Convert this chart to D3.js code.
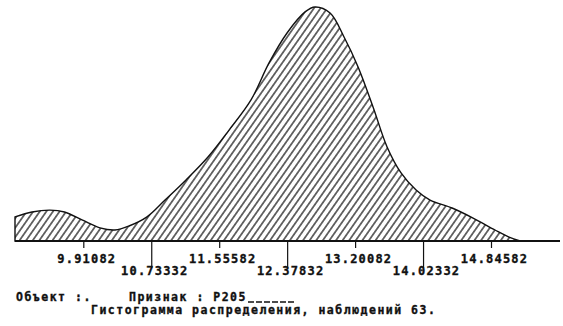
<!DOCTYPE html>
<html>
<head>
<meta charset="utf-8">
<script src="https://cdn.jsdelivr.net/npm/d3@7"></script>
<style>
  body { margin: 0; background: #fff; }
  text { font-family: "DejaVu Sans Mono", "Liberation Mono", monospace; font-weight: bold; fill: #111; stroke: #111; stroke-width: 0.35px; }
</style>
</head>
<body>
<div id="chart"></div>
<script>
const xValues = [9.084, 9.290, 9.507, 9.683, 9.895, 10.113, 10.295, 10.464, 10.682, 10.900,
  11.154, 11.420, 11.675, 11.941, 12.159, 12.377, 12.595, 12.716, 12.898, 13.067,
  13.237, 13.418, 13.588, 13.757, 13.939, 14.108, 14.375, 14.629, 14.895, 15.064, 15.198]
const yValues = [0.103, 0.124, 0.132, 0.124, 0.090, 0.056, 0.047, 0.064, 0.103, 0.175,
  0.261, 0.359, 0.474, 0.603, 0.761, 0.889, 0.979, 1.000, 0.974, 0.872,
  0.744, 0.573, 0.402, 0.291, 0.218, 0.175, 0.141, 0.098, 0.047, 0.017, 0.000]

const tickValues = [9.91082, 10.73332, 11.55582, 12.37832, 13.20082, 14.02332, 14.84582]
const tickLabels = ['9.91082', '10.73332', '11.55582', '12.37832', '13.20082', '14.02332', '14.84582']

const captionObject = 'Объект :.'
const captionSign = 'Признак : P205'
const captionTitle = 'Гистограмма распределения, наблюдений 63.'

const W = 563, H = 326
const base = 241

const svg = d3.select('#chart').append('svg')
    .attr('width', W)
    .attr('height', H)

//scales: ticks sit ~68px apart
const x = d3.scaleLinear()
    .domain([tickValues[0], tickValues[6]])
    .range([83.3, 491])
const y = d3.scaleLinear()
    .domain([0, 1])
    .range([base, 7])

//hatch pattern
svg.append('defs').append('pattern')
    .attr('id', 'hatch')
    .attr('patternUnits', 'userSpaceOnUse')
    .attr('width', 5.4)
    .attr('height', 10)
    .attr('patternTransform', 'rotate(35)')
  .append('line')
    .attr('x1', 2.7).attr('y1', 0)
    .attr('x2', 2.7).attr('y2', 10)
    .attr('stroke', '#222')
    .attr('stroke-width', 1.3)

const pts = xValues.map((d, i) => [d, yValues[i]])

const area = d3.area()
    .x(d => x(d[0]))
    .y0(y(0))
    .y1(d => y(d[1]))
    .curve(d3.curveCatmullRom.alpha(0.5))

svg.append('path')
    .datum(pts)
    .attr('d', area)
    .attr('fill', 'url(#hatch)')
    .attr('stroke', '#111')
    .attr('stroke-width', 1.4)

//baseline running past the curve
svg.append('line')
    .attr('x1', x(xValues[0]))
    .attr('x2', 560)
    .attr('y1', base)
    .attr('y2', base)
    .attr('stroke', '#111')
    .attr('stroke-width', 2.2)

//axis, every second tick is long with a lower label
const axis = d3.axisBottom(x)
    .tickValues(tickValues)
    .tickFormat((d, i) => tickLabels[i])
    .tickSize(7)

const gx = svg.append('g')
    .attr('transform', `translate(0,${base})`)
    .call(axis)

gx.select('.domain').remove()
gx.selectAll('.tick line')
    .attr('stroke', '#111')
    .attr('stroke-width', 1.2)
    .attr('y2', (d, i) => i % 2 ? 27 : 7)
gx.selectAll('.tick text')
    .attr('y', (d, i) => i % 2 ? 34 : 22)
    .attr('dy', 0)
    .attr('dx', 3)
    .style('font-size', '12px')
    .style('letter-spacing', '1.2px')
    .style('font-family', '"DejaVu Sans Mono", monospace')
    .style('font-weight', 'bold')
    .attr('fill', '#111')

//captions
const cap = svg.append('g')
    .style('font-size', '11.5px')
    .style('letter-spacing', '1.5px')

cap.append('text').attr('x', 16).attr('y', 301).text(captionObject)
cap.append('text').attr('x', 129).attr('y', 301).text(captionSign)
cap.append('line')
    .attr('x1', 248).attr('x2', 295)
    .attr('y1', 302).attr('y2', 302)
    .attr('stroke', '#111')
    .attr('stroke-width', 1.3)
    .attr('stroke-dasharray', '6,2')
cap.append('text').attr('x', 91).attr('y', 314).text(captionTitle)
</script>
</body>
</html>
